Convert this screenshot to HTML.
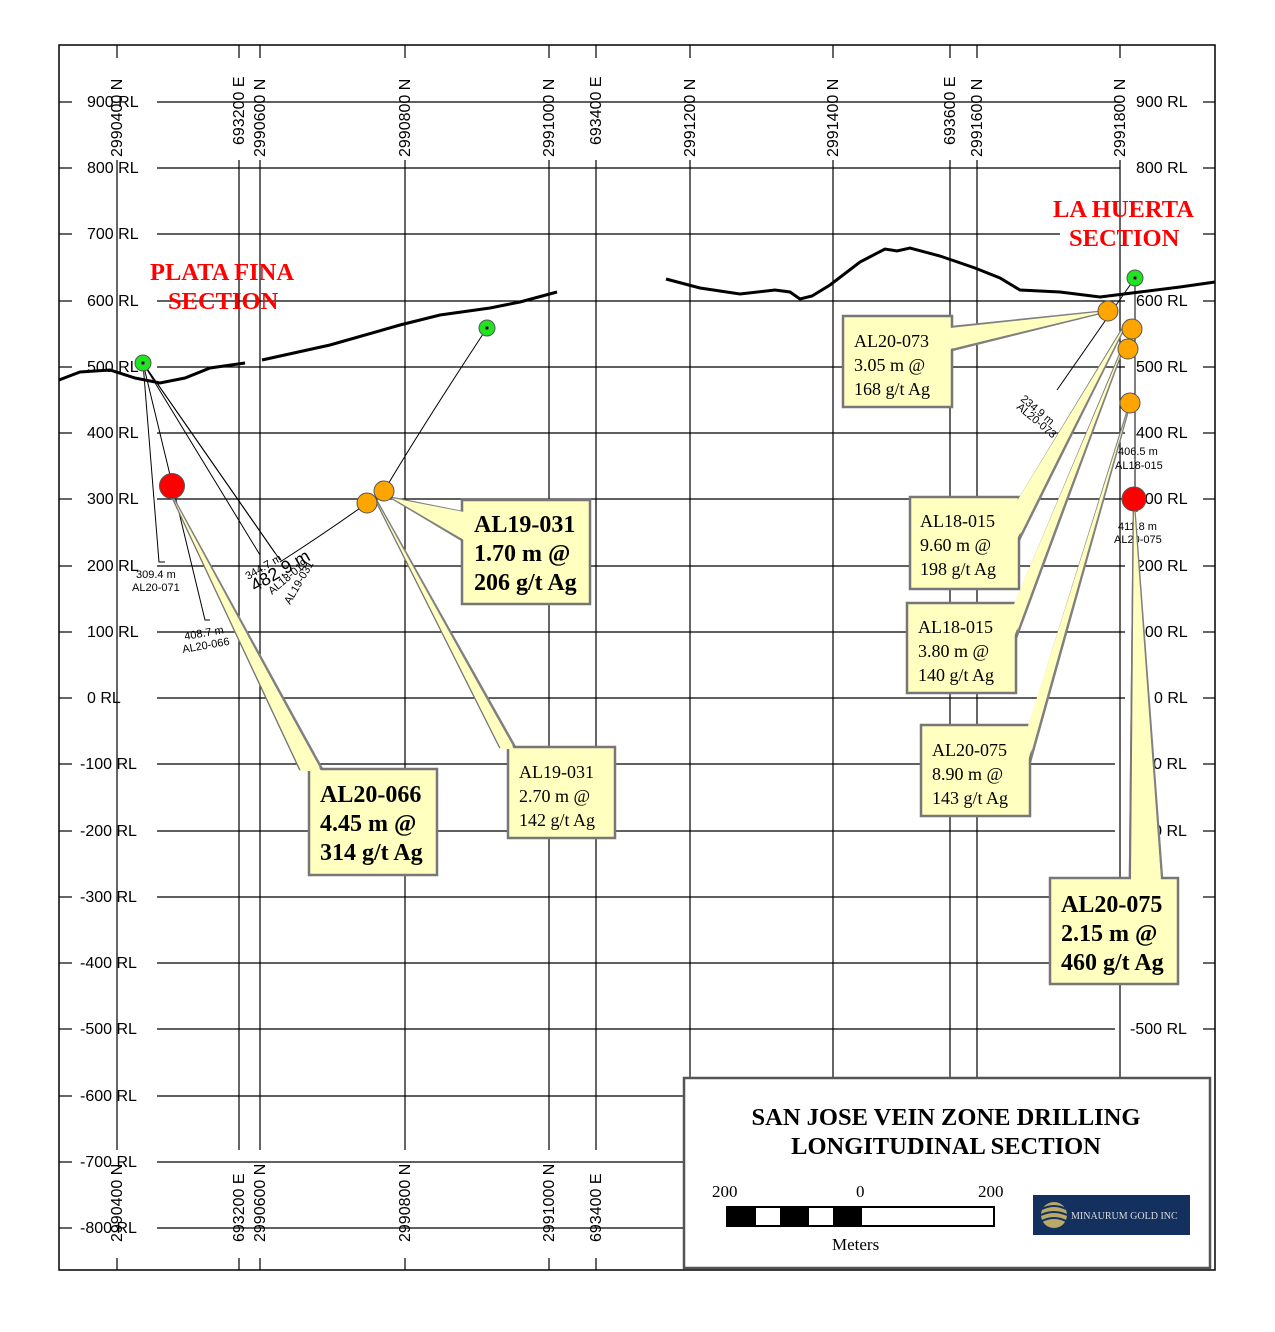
<!DOCTYPE html>
<html><head><meta charset="utf-8"><style>
html,body{margin:0;padding:0;background:#fff}
svg{display:block}
.ax{font-family:"Liberation Sans",sans-serif;font-size:16px;fill:#000}
.sm{font-family:"Liberation Sans",sans-serif;font-size:11px;fill:#000}
.cb{font-family:"Liberation Serif",serif;font-size:18px;fill:#000}
.cbb{font-family:"Liberation Serif",serif;font-size:24px;font-weight:bold;fill:#000}
.red{font-family:"Liberation Serif",serif;font-size:24.5px;font-weight:bold;fill:#f00}
</style></head><body>
<svg width="1275" height="1332" viewBox="0 0 1275 1332" xmlns="http://www.w3.org/2000/svg">
<rect x="59" y="45" width="1156" height="1225" fill="#fff" stroke="#000" stroke-width="1.5"/>
<g stroke="#000" stroke-width="1.2" id="h">
<line x1="59" y1="102" x2="72" y2="102"/><line x1="157" y1="102" x2="1120" y2="102"/><line x1="1203" y1="102" x2="1215" y2="102"/>
<line x1="59" y1="168" x2="72" y2="168"/><line x1="157" y1="168" x2="1120" y2="168"/><line x1="1203" y1="168" x2="1215" y2="168"/>
<line x1="59" y1="234" x2="72" y2="234"/><line x1="157" y1="234" x2="1060" y2="234"/><line x1="1203" y1="234" x2="1215" y2="234"/>
<line x1="59" y1="301" x2="72" y2="301"/><line x1="157" y1="301" x2="1125" y2="301"/><line x1="1203" y1="301" x2="1215" y2="301"/>
<line x1="59" y1="367" x2="72" y2="367"/><line x1="157" y1="367" x2="1125" y2="367"/><line x1="1203" y1="367" x2="1215" y2="367"/>
<line x1="59" y1="433" x2="72" y2="433"/><line x1="157" y1="433" x2="1125" y2="433"/><line x1="1203" y1="433" x2="1215" y2="433"/>
<line x1="59" y1="499" x2="72" y2="499"/><line x1="157" y1="499" x2="1125" y2="499"/><line x1="1203" y1="499" x2="1215" y2="499"/>
<line x1="59" y1="566" x2="72" y2="566"/><line x1="157" y1="566" x2="1125" y2="566"/><line x1="1203" y1="566" x2="1215" y2="566"/>
<line x1="59" y1="632" x2="72" y2="632"/><line x1="157" y1="632" x2="1125" y2="632"/><line x1="1203" y1="632" x2="1215" y2="632"/>
<line x1="59" y1="698" x2="72" y2="698"/><line x1="157" y1="698" x2="1125" y2="698"/><line x1="1203" y1="698" x2="1215" y2="698"/>
<line x1="59" y1="764" x2="72" y2="764"/><line x1="157" y1="764" x2="1115" y2="764"/><line x1="1203" y1="764" x2="1215" y2="764"/>
<line x1="59" y1="831" x2="72" y2="831"/><line x1="157" y1="831" x2="1115" y2="831"/><line x1="1203" y1="831" x2="1215" y2="831"/>
<line x1="59" y1="897" x2="72" y2="897"/><line x1="157" y1="897" x2="1115" y2="897"/><line x1="1203" y1="897" x2="1215" y2="897"/>
<line x1="59" y1="963" x2="72" y2="963"/><line x1="157" y1="963" x2="1115" y2="963"/><line x1="1203" y1="963" x2="1215" y2="963"/>
<line x1="59" y1="1029" x2="72" y2="1029"/><line x1="157" y1="1029" x2="1115" y2="1029"/><line x1="1203" y1="1029" x2="1215" y2="1029"/>
<line x1="59" y1="1096" x2="72" y2="1096"/><line x1="157" y1="1096" x2="684" y2="1096"/>
<line x1="59" y1="1162" x2="72" y2="1162"/><line x1="157" y1="1162" x2="684" y2="1162"/>
<line x1="59" y1="1228" x2="72" y2="1228"/><line x1="157" y1="1228" x2="684" y2="1228"/>
</g>
<g stroke="#000" stroke-width="1.2">
<line x1="117" y1="45" x2="117" y2="58"/><line x1="117" y1="160" x2="117" y2="1150"/><line x1="117" y1="1258" x2="117" y2="1270"/>
<line x1="239" y1="45" x2="239" y2="58"/><line x1="239" y1="160" x2="239" y2="1150"/><line x1="239" y1="1258" x2="239" y2="1270"/>
<line x1="260" y1="45" x2="260" y2="58"/><line x1="260" y1="160" x2="260" y2="1150"/><line x1="260" y1="1258" x2="260" y2="1270"/>
<line x1="405" y1="45" x2="405" y2="58"/><line x1="405" y1="160" x2="405" y2="1150"/><line x1="405" y1="1258" x2="405" y2="1270"/>
<line x1="549" y1="45" x2="549" y2="58"/><line x1="549" y1="160" x2="549" y2="1150"/><line x1="549" y1="1258" x2="549" y2="1270"/>
<line x1="596" y1="45" x2="596" y2="58"/><line x1="596" y1="160" x2="596" y2="1150"/><line x1="596" y1="1258" x2="596" y2="1270"/>
<line x1="690" y1="45" x2="690" y2="58"/><line x1="690" y1="160" x2="690" y2="1078"/>
<line x1="833" y1="45" x2="833" y2="58"/><line x1="833" y1="160" x2="833" y2="1078"/>
<line x1="950" y1="45" x2="950" y2="58"/><line x1="950" y1="160" x2="950" y2="1078"/>
<line x1="977" y1="45" x2="977" y2="58"/><line x1="977" y1="160" x2="977" y2="1078"/>
<line x1="1120" y1="45" x2="1120" y2="58"/><line x1="1120" y1="160" x2="1120" y2="1078"/>
</g>
<g class="ax">
<text x="87" y="107">900 RL</text><text x="87" y="173">800 RL</text><text x="87" y="239">700 RL</text><text x="87" y="306">600 RL</text><text x="87" y="372">500 RL</text><text x="87" y="438">400 RL</text><text x="87" y="504">300 RL</text><text x="87" y="571">200 RL</text><text x="87" y="637">100 RL</text><text x="87" y="703">0 RL</text><text x="80" y="769">-100 RL</text><text x="80" y="836">-200 RL</text><text x="80" y="902">-300 RL</text><text x="80" y="968">-400 RL</text><text x="80" y="1034">-500 RL</text><text x="80" y="1101">-600 RL</text><text x="80" y="1167">-700 RL</text><text x="80" y="1233">-800 RL</text>
<text x="1136" y="107">900 RL</text><text x="1136" y="173">800 RL</text><text x="1136" y="306">600 RL</text><text x="1136" y="372">500 RL</text><text x="1136" y="438">400 RL</text><text x="1136" y="504">300 RL</text><text x="1136" y="571">200 RL</text><text x="1136" y="637">100 RL</text><text x="1154" y="703">0 RL</text><text x="1130" y="769">-100 RL</text><text x="1130" y="836">-200 RL</text><text x="1130" y="1034">-500 RL</text>
</g>
<g class="ax">
<text transform="translate(122,157) rotate(-90)">2990400 N</text>
<text transform="translate(244,145) rotate(-90)">693200 E</text>
<text transform="translate(265,157) rotate(-90)">2990600 N</text>
<text transform="translate(410,157) rotate(-90)">2990800 N</text>
<text transform="translate(554,157) rotate(-90)">2991000 N</text>
<text transform="translate(601,145) rotate(-90)">693400 E</text>
<text transform="translate(695,157) rotate(-90)">2991200 N</text>
<text transform="translate(838,157) rotate(-90)">2991400 N</text>
<text transform="translate(955,145) rotate(-90)">693600 E</text>
<text transform="translate(982,157) rotate(-90)">2991600 N</text>
<text transform="translate(1125,157) rotate(-90)">2991800 N</text>
<text transform="translate(122,1242) rotate(-90)">2990400 N</text>
<text transform="translate(244,1242) rotate(-90)">693200 E</text>
<text transform="translate(265,1242) rotate(-90)">2990600 N</text>
<text transform="translate(410,1242) rotate(-90)">2990800 N</text>
<text transform="translate(554,1242) rotate(-90)">2991000 N</text>
<text transform="translate(601,1242) rotate(-90)">693400 E</text>
</g>
<g fill="none" stroke="#000" stroke-width="3">
<polyline points="59,380 80,372 110,370 135,378 160,383 185,378 210,368 245,363"/>
<polyline points="262,360 330,345 400,325 440,315 490,308 520,302 557,292"/>
<polyline points="666,279 700,288 740,294 775,290 790,292 800,299 812,296 830,285 860,262 885,249 897,251 910,248 940,256 975,268 1000,278 1020,290 1060,292 1100,297 1140,292 1180,287 1215,282"/>
</g>
<g fill="none" stroke="#000" stroke-width="1">
<polyline points="143,363 159,562 165,562"/>
<polyline points="143,363 205,620 210,620"/>
<polyline points="143,363 260,555"/>
<polyline points="143,363 275,553"/>
<polyline points="143,363 280,560"/>
<path d="M487,328 Q420,430 384,491 Q330,530 280,562"/>
<line x1="1135" y1="278" x2="1057" y2="390"/>
<line x1="1135" y1="278" x2="1135" y2="499"/>
<line x1="1135" y1="499" x2="1137" y2="512"/>
</g>
<g class="sm">
<text x="136" y="578">309.4 m</text><text x="132" y="591">AL20-071</text>
<text transform="translate(185,640) rotate(-10)">408.7 m</text><text transform="translate(183,653) rotate(-10)">AL20-066</text>
<text transform="translate(248,580) rotate(-30)">344.7 m</text>
<text transform="translate(255,592) rotate(-30)" style="font-size:18px">482.9 m</text>
<text transform="translate(272,595) rotate(-40)">AL18-019</text>
<text transform="translate(290,605) rotate(-60)">AL19-031</text>
<text transform="translate(1020,400) rotate(40)">234.9 m</text><text transform="translate(1016,408) rotate(40)">AL20-073</text>
<text x="1118" y="455">406.5 m</text><text x="1115" y="469">AL18-015</text>
<text x="1118" y="530">411.8 m</text><text x="1114" y="543">AL20-075</text>
</g>
<text class="red" x="150" y="280">PLATA FINA</text><text class="red" x="168" y="309">SECTION</text>
<text class="red" x="1053" y="217">LA HUERTA</text><text class="red" x="1069" y="246">SECTION</text>
<g fill="#ffffc0" stroke="#808080" stroke-width="2.5">
<polygon points="172,496 300,769 322,769"/>
<polygon points="376,500 500,747 515,747"/>
<polygon points="392,498 462,512 462,540"/>
<polygon points="1108,311 952,327 952,350"/>
<polygon points="1128,320 1019,500 1019,540"/>
<polygon points="1126,340 1016,603 1016,638"/>
<polygon points="1128,410 1030,725 1030,762"/>
<polygon points="1134,505 1130,878 1162,878"/>
</g>
<g stroke="#777" stroke-width="2.5">
<line x1="172" y1="496" x2="300" y2="769"/>
<line x1="376" y1="500" x2="500" y2="747"/>
<line x1="1134" y1="505" x2="1130" y2="878"/>
</g>
<g fill="#ffffc0" stroke="#777" stroke-width="2.5">
<rect x="462" y="500" width="128" height="104"/>
<rect x="309" y="769" width="128" height="106"/>
<rect x="508" y="747" width="107" height="91"/>
<rect x="843" y="316" width="109" height="91"/>
<rect x="910" y="497" width="109" height="92"/>
<rect x="907" y="603" width="109" height="90"/>
<rect x="921" y="725" width="109" height="91"/>
<rect x="1050" y="878" width="128" height="106"/>
</g>
<g fill="#ffffc0" stroke="none">
<polygon points="172,496 301,771 321,771"/>
<polygon points="376,500 501,749 514,749"/>
<polygon points="392,498 464,512 464,540"/>
<polygon points="1108,311 950,328 950,349"/>
<polygon points="1128,320 1017,501 1017,539"/>
<polygon points="1126,340 1014,604 1014,637"/>
<polygon points="1128,410 1028,726 1028,761"/>
<polygon points="1134,505 1131,880 1161,880"/>
</g>
<text class="cbb" x="474" y="532">AL19-031</text><text class="cbb" x="474" y="561">1.70 m @</text><text class="cbb" x="474" y="590">206 g/t Ag</text>
<text class="cbb" x="320" y="802">AL20-066</text><text class="cbb" x="320" y="831">4.45 m @</text><text class="cbb" x="320" y="860">314 g/t Ag</text>
<text class="cbb" x="1061" y="912">AL20-075</text><text class="cbb" x="1061" y="941">2.15 m @</text><text class="cbb" x="1061" y="970">460 g/t Ag</text>
<text class="cb" x="519" y="778">AL19-031</text><text class="cb" x="519" y="802">2.70 m @</text><text class="cb" x="519" y="826">142 g/t Ag</text>
<text class="cb" x="854" y="347">AL20-073</text><text class="cb" x="854" y="371">3.05 m @</text><text class="cb" x="854" y="395">168 g/t Ag</text>
<text class="cb" x="920" y="527">AL18-015</text><text class="cb" x="920" y="551">9.60 m @</text><text class="cb" x="920" y="575">198 g/t Ag</text>
<text class="cb" x="918" y="633">AL18-015</text><text class="cb" x="918" y="657">3.80 m @</text><text class="cb" x="918" y="681">140 g/t Ag</text>
<text class="cb" x="932" y="756">AL20-075</text><text class="cb" x="932" y="780">8.90 m @</text><text class="cb" x="932" y="804">143 g/t Ag</text>
<g stroke="#555" stroke-width="1">
<circle cx="143" cy="363" r="8" fill="#1ee61e"/><circle cx="143" cy="363" r="1.5" fill="#000"/>
<circle cx="487" cy="328" r="8" fill="#1ee61e"/><circle cx="487" cy="328" r="1.5" fill="#000"/>
<circle cx="1135" cy="278" r="8" fill="#1ee61e"/><circle cx="1135" cy="278" r="1.5" fill="#000"/>
<circle cx="172" cy="486" r="12.5" fill="#f00"/>
<circle cx="1134" cy="499" r="12" fill="#f00"/>
<circle cx="367" cy="503" r="10" fill="#ffa500"/>
<circle cx="384" cy="491" r="10" fill="#ffa500"/>
<circle cx="1108" cy="311" r="10" fill="#ffa500"/>
<circle cx="1132" cy="329" r="10" fill="#ffa500"/>
<circle cx="1128" cy="349" r="10" fill="#ffa500"/>
<circle cx="1130" cy="403" r="10" fill="#ffa500"/>
</g>
<rect x="684" y="1078" width="526" height="190" fill="#fff" stroke="#555" stroke-width="2.5"/>
<text x="946" y="1125" text-anchor="middle" style="font-family:'Liberation Serif',serif;font-size:24.5px;font-weight:bold">SAN JOSE VEIN ZONE DRILLING</text>
<text x="946" y="1154" text-anchor="middle" style="font-family:'Liberation Serif',serif;font-size:24.5px;font-weight:bold">LONGITUDINAL SECTION</text>
<g style="font-family:'Liberation Serif',serif;font-size:17px">
<text x="712" y="1197">200</text><text x="856" y="1197">0</text><text x="978" y="1197">200</text>
<text x="832" y="1250">Meters</text>
</g>
<rect x="727" y="1207" width="267" height="19" fill="#fff" stroke="#000" stroke-width="2"/>
<g fill="#000"><rect x="727" y="1207" width="29" height="19"/><rect x="780" y="1207" width="29" height="19"/><rect x="833" y="1207" width="29" height="19"/></g>
<rect x="1033" y="1195" width="157" height="40" fill="#14305e"/>
<circle cx="1054" cy="1215" r="13" fill="#b8a96a"/>
<g stroke="#14305e" stroke-width="2" fill="none"><path d="M1042,1209 Q1054,1203 1066,1209"/><path d="M1041,1215 Q1054,1209 1067,1215"/><path d="M1042,1221 Q1054,1215 1066,1221"/></g>
<text x="1071" y="1219" style="font-family:'Liberation Serif',serif;font-size:10px;fill:#dcdcdc">MINAURUM GOLD INC</text>
</svg>
</body></html>
